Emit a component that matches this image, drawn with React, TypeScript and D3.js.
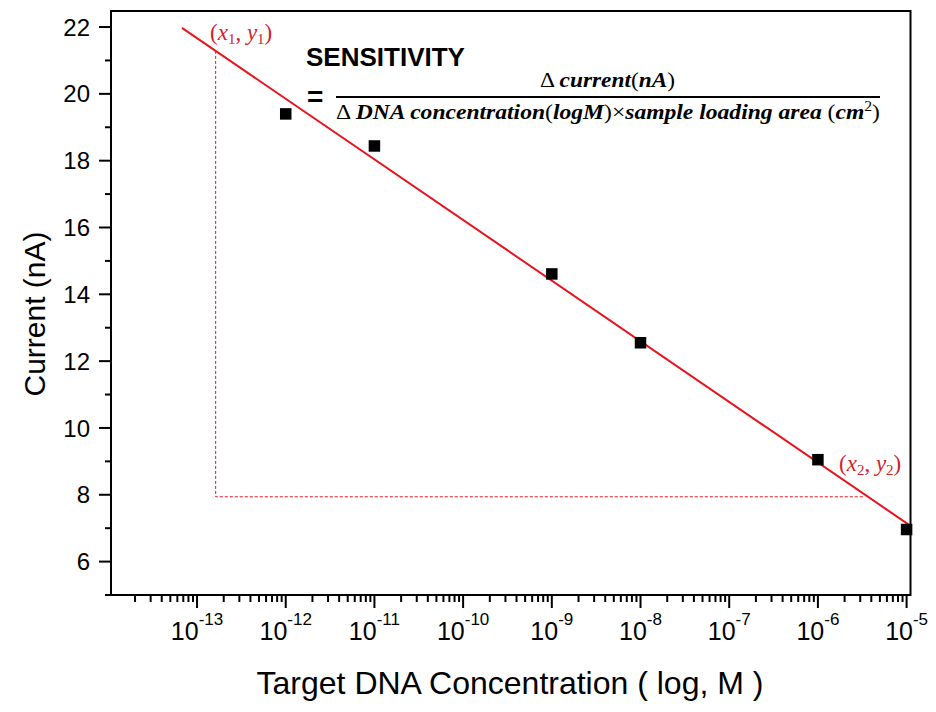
import React from "react";
import * as d3 from "d3";

const concentrations = [1e-12, 1e-11, 1e-9, 1e-8, 1e-6, 1e-5];
const currents = [19.4, 18.44, 14.61, 12.55, 9.05, 6.96];
const yMajorTicks = [6, 8, 10, 12, 14, 16, 18, 20, 22];
const yMinorTicks = [5, 7, 9, 11, 13, 15, 17, 19, 21];
const xMajorExponents = [-13, -12, -11, -10, -9, -8, -7, -6, -5];
const fitLogRange = [-13.17, -4.96];
const guideLogX = [-12.79, -5.47];
const guideLowY = 7.94;

const W = 936;
const H = 712;
const L = 111, R = 910.5, T = 11, B = 595;

export default function App() {
  const x = d3.scaleLog().domain([Math.pow(10, -13.97), Math.pow(10, -4.956)]).range([L, R]);
  const y = d3.scaleLinear().domain([5.0, 22.48]).range([B, T]);

  // least squares fit on log10(x)
  const lx = concentrations.map((c) => Math.log10(c));
  const mx = d3.mean(lx)!;
  const my = d3.mean(currents)!;
  const sxy = d3.sum(lx.map((v, i) => (v - mx) * (currents[i] - my)));
  const sxx = d3.sum(lx.map((v) => (v - mx) * (v - mx)));
  const slope = sxy / sxx;
  const fit = (lg: number) => my + slope * (lg - mx);

  const minorX: number[] = [];
  for (let k = -14; k <= -5; k++) {
    for (let m = 2; m <= 9; m++) {
      const v = m * Math.pow(10, k);
      const px = x(v);
      if (px >= L - 0.5 && px <= R + 0.5) minorX.push(v);
    }
  }

  const fitLine = d3
    .line<number>()
    .x((lg) => x(Math.pow(10, lg)))
    .y((lg) => y(fit(lg)));

  const gx1 = x(Math.pow(10, guideLogX[0]));
  const gx2 = x(Math.pow(10, guideLogX[1]));
  const gyTop = y(fit(guideLogX[0]));
  const gyLow = y(guideLowY);

  const sans = "'Liberation Sans', Arial, sans-serif";
  const serif = "'Liberation Serif', 'DejaVu Serif', serif";
  const red = "#e8141e";
  const labelRed = "#d2232a";
  const sq = 11.5;

  return (
    <svg width={W} height={H} style={{ display: "block", position: "absolute", left: 0, top: 0 }}>
      <rect x={0} y={0} width={W} height={H} fill="#fff" />
      {/* guide dashed lines */}
      <path
        d={`M${gx1},${gyTop}V${gyLow}H${gx2}`}
        fill="none"
        stroke={red}
        strokeWidth={1}
        strokeDasharray="3,2"
      />
      {/* fit line */}
      <path d={fitLine(fitLogRange) || ""} fill="none" stroke={red} strokeWidth={2} />
      {/* points */}
      {concentrations.map((c, i) => (
        <rect key={i} x={x(c) - sq / 2} y={y(currents[i]) - sq / 2} width={sq} height={sq} fill="#000" />
      ))}
      {/* frame */}
      <rect x={L} y={T} width={R - L} height={B - T} fill="none" stroke="#000" strokeWidth={2} />
      {/* y ticks */}
      {yMajorTicks.map((v) => (
        <g key={v}>
          <line x1={L - 12} x2={L} y1={y(v)} y2={y(v)} stroke="#000" strokeWidth={2} />
          <text x={L - 21} y={y(v)} dy="0.36em" textAnchor="end" fontFamily={sans} fontSize={24}>
            {v}
          </text>
        </g>
      ))}
      {yMinorTicks.map((v) => (
        <line key={v} x1={L - 6} x2={L} y1={y(v)} y2={y(v)} stroke="#000" strokeWidth={2} />
      ))}
      {/* x ticks */}
      {xMajorExponents.map((e) => {
        const px = x(Math.pow(10, e));
        return (
          <g key={e}>
            <line x1={px} x2={px} y1={B} y2={B + 13} stroke="#000" strokeWidth={2} />
            <text x={px} y={640} textAnchor="middle" fontFamily={sans} fontSize={25}>
              <tspan>10</tspan>
              <tspan dy={-15} fontSize={17}>{e}</tspan>
            </text>
          </g>
        );
      })}
      {minorX.map((v, i) => (
        <line key={i} x1={x(v)} x2={x(v)} y1={B} y2={B + 7} stroke="#000" strokeWidth={2} />
      ))}
      {/* axis titles */}
      <text x={510} y={694} textAnchor="middle" fontFamily={sans} fontSize={32}>
        Target DNA Concentration ( log, M )
      </text>
      <text
        transform="translate(45,314) rotate(-90)"
        textAnchor="middle"
        fontFamily={sans}
        fontSize={30}
      >
        Current (nA)
      </text>
      {/* point labels */}
      <text x={210} y={40} fontFamily={serif} fontSize={23} fill={labelRed}>
        <tspan>(</tspan>
        <tspan fontStyle="italic">x</tspan>
        <tspan fontSize={15} dy={4}>1</tspan>
        <tspan dy={-4}>, </tspan>
        <tspan fontStyle="italic">y</tspan>
        <tspan fontSize={15} dy={4}>1</tspan>
        <tspan dy={-4}>)</tspan>
      </text>
      <text x={839} y={471} fontFamily={serif} fontSize={23} fill={labelRed}>
        <tspan>(</tspan>
        <tspan fontStyle="italic">x</tspan>
        <tspan fontSize={15} dy={4}>2</tspan>
        <tspan dy={-4}>, </tspan>
        <tspan fontStyle="italic">y</tspan>
        <tspan fontSize={15} dy={4}>2</tspan>
        <tspan dy={-4}>)</tspan>
      </text>
      {/* formula */}
      <text x={306} y={66} fontFamily={sans} fontWeight="bold" fontSize={26}>
        SENSITIVITY
      </text>
      <text x={307} y={106} fontFamily={sans} fontWeight="bold" fontSize={28}>
        =
      </text>
      <line x1={336} x2={880} y1={97} y2={97} stroke="#000" strokeWidth={2} />
      <text
        x={540}
        y={87}
        fontFamily={serif}
        fontWeight="bold"
        fontSize={21}
        textLength={135}
        lengthAdjust="spacingAndGlyphs"
      >
        <tspan fontWeight="normal">Δ </tspan>
        <tspan fontStyle="italic">current</tspan>
        <tspan fontWeight="normal">(</tspan>
        <tspan fontStyle="italic">nA</tspan>
        <tspan fontWeight="normal">)</tspan>
      </text>
      <text
        x={336}
        y={119}
        fontFamily={serif}
        fontWeight="bold"
        fontSize={21}
        textLength={544}
        lengthAdjust="spacingAndGlyphs"
      >
        <tspan fontWeight="normal">Δ </tspan>
        <tspan fontStyle="italic">DNA concentration</tspan>
        <tspan fontWeight="normal">(</tspan>
        <tspan fontStyle="italic">logM</tspan>
        <tspan fontWeight="normal">)×</tspan>
        <tspan fontStyle="italic">sample loading area </tspan>
        <tspan fontWeight="normal">(</tspan>
        <tspan fontStyle="italic">cm</tspan>
        <tspan fontWeight="normal" fontSize={14} dy={-8}>2</tspan>
        <tspan fontWeight="normal" dy={8}>)</tspan>
      </text>
    </svg>
  );
}
